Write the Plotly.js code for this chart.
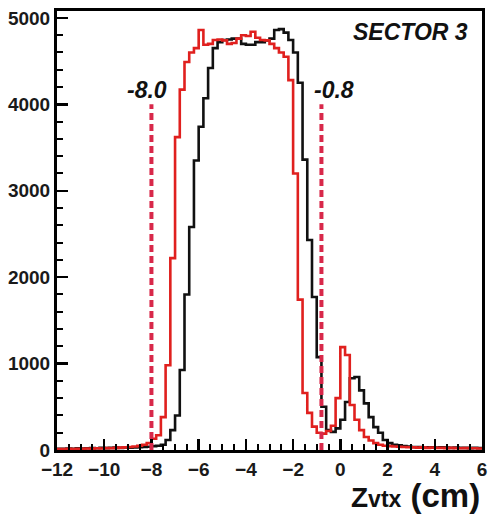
<!DOCTYPE html>
<html>
<head>
<meta charset="utf-8">
<script src="https://cdn.plot.ly/plotly-3.0.1.min.js"></script>
<style>
html,body{margin:0;padding:0;background:#fff;}
#plot{width:488px;height:516px;}
</style>
</head>
<body>
<div id="plot"></div>
<script>
// ---- data ----
const binStart = -12;      // cm, first bin low edge
const binWidth = 0.2;      // cm
// black histogram (counts per 0.2 cm bin, -12 .. 6 cm)
const blackCounts = [
  15,15,18,15,20,18,20,22,20,25,22,25,28,25,30,28,30,32,
  35,38,45,50,60,115,230,400,925,1800,2580,3350,3740,4070,4420,4650,4720,4745,
  4750,4760,4760,4700,4690,4690,4720,4720,4740,4760,4860,4870,4830,4745,4600,4250,
  3360,2430,1770,1075,500,230,210,250,350,555,830,845,690,540,380,265,200,115,
  80,60,55,45,40,
  35,35,30,32,30,28,30,28,25,28,25,25,22,25,22
];
// red histogram
const redCounts = [
  12,12,15,12,15,15,18,15,20,18,22,20,25,28,30,35,40,50,
  60,80,130,170,380,980,2220,3620,4170,4490,4600,4650,4860,4690,4700,4745,4750,4740,
  4700,4710,4760,4800,4790,4840,4770,4745,4740,4700,4650,4600,4550,4280,3200,1740,
  660,430,270,200,190,220,280,600,1190,1100,520,350,230,150,110,80,60,50,
  45,40,38,35,32,
  30,28,30,25,28,25,25,22,25,22,20,22,20,20,18
];
const cutValues = [-8.0, -0.8];
const cutLabels = ["-8.0", "-0.8"];
const cutLineTop = 4000;
const sectorLabel = "SECTOR 3";
const xTickVals = [-12,-10,-8,-6,-4,-2,0,2,4,6];
const yTickVals = [0,1000,2000,3000,4000,5000];

// ---- build step traces ----
function stepXY(counts){
  const xs = [], ys = [];
  for (let i = 0; i <= counts.length; i++){
    xs.push(+(binStart + i*binWidth).toFixed(4));
    ys.push(counts[Math.min(i, counts.length-1)]);
  }
  return {xs, ys};
}
const b = stepXY(blackCounts), r = stepXY(redCounts);

const traces = [
  {x: b.xs, y: b.ys, type:'scatter', mode:'lines', line:{shape:'hv', color:'#111111', width:2.6}, hoverinfo:'skip'},
  {x: r.xs, y: r.ys, type:'scatter', mode:'lines', line:{shape:'hv', color:'#e0201e', width:2.6}, hoverinfo:'skip'}
];

const shapes = cutValues.map(v => ({
  type:'line', xref:'x', yref:'y', x0:v, x1:v, y0:0, y1:cutLineTop,
  line:{color:'#d8284a', width:4, dash:'7px,4px'}
}));

const labelFont = {family:'Liberation Sans, Arial, sans-serif', size:23, color:'#111', style:'italic', weight:'bold'};
const annotations = [
  {xref:'x', yref:'y', x:-8.2, y:4170, text:cutLabels[0], showarrow:false, xanchor:'center', yanchor:'middle', font:labelFont},
  {xref:'x', yref:'y', x:-0.25, y:4170, text:cutLabels[1], showarrow:false, xanchor:'center', yanchor:'middle', font:labelFont},
  {xref:'paper', yref:'paper', x:0.972, y:0.952, text:sectorLabel, showarrow:false, xanchor:'right', yanchor:'middle', font:labelFont},
  {xref:'paper', yref:'paper', x:1.0, y:-0.1503, showarrow:false, xanchor:'right', yanchor:'bottom',
   text:'<span style="font-size:28px">Z</span><span style="font-size:23px">vtx</span><span style="font-size:33px"> (cm)</span>',
   font:{family:'Liberation Sans, Arial, sans-serif', size:28, color:'#111', weight:'bold'}}
];

const axisCommon = {
  showline:true, linecolor:'#000', linewidth:3, mirror:true,
  ticks:'inside', ticklen:11, tickwidth:2.5, tickcolor:'#000',
  showgrid:false, zeroline:false,
  tickfont:{family:'Liberation Sans, Arial, sans-serif', size:19, color:'#1a1a1a', weight:'bold'}
};

const layout = {
  width:488, height:516,
  margin:{l:57, r:6, t:11, b:66},
  paper_bgcolor:'#fff', plot_bgcolor:'#fff',
  showlegend:false,
  xaxis: Object.assign({}, axisCommon, {
    range:[-12, 6], tickmode:'array', tickvals:xTickVals,
    minor:{dtick:0.5, ticks:'inside', ticklen:6, tickwidth:2, tickcolor:'#000'}
  }),
  yaxis: Object.assign({}, axisCommon, {
    range:[0, 5080], tickmode:'array', tickvals:yTickVals,
    minor:{dtick:200, ticks:'inside', ticklen:6, tickwidth:2, tickcolor:'#000'}
  }),
  shapes, annotations
};

Plotly.newPlot('plot', traces, layout, {staticPlot:true, displayModeBar:false});
</script>
</body>
</html>
